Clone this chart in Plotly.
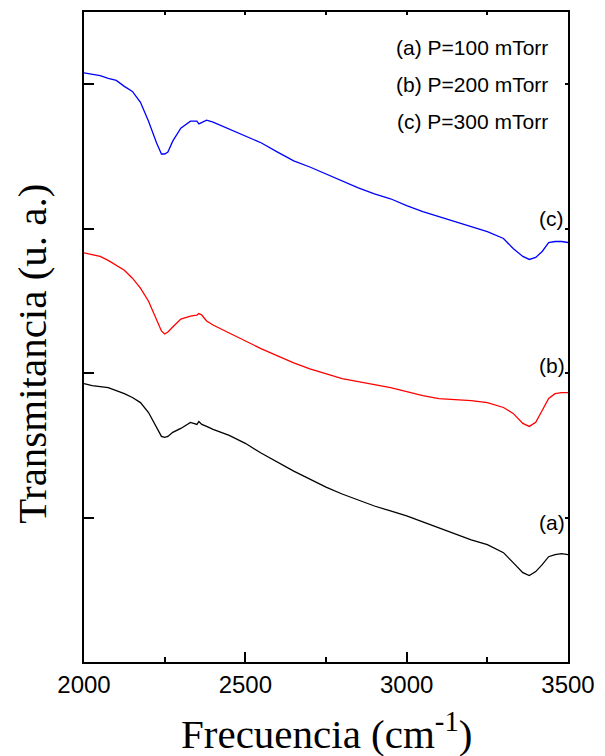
import plotly.graph_objects as go

freq = [2000, 2025, 2050, 2075, 2100, 2125, 2150, 2175, 2200, 2225, 2240, 2250, 2260, 2275,
        2300, 2330, 2350, 2356, 2365, 2380, 2400, 2450, 2500, 2550, 2600, 2650, 2700, 2750,
        2800, 2850, 2900, 2950, 3000, 3050, 3100, 3150, 3200, 3250, 3300, 3330, 3360, 3380,
        3400, 3420, 3440, 3460, 3480, 3500]

trans_a = [1.927, 1.913, 1.906, 1.899, 1.879, 1.858, 1.831, 1.796, 1.727, 1.624, 1.562, 1.555, 1.562, 1.590,
           1.617, 1.659, 1.645, 1.665, 1.645, 1.631, 1.610, 1.569, 1.514, 1.445, 1.383, 1.321, 1.266, 1.211,
           1.163, 1.122, 1.080, 1.046, 1.012, 0.970, 0.929, 0.888, 0.846, 0.812, 0.757, 0.688, 0.619, 0.599,
           0.626, 0.674, 0.729, 0.743, 0.750, 0.743]

trans_b = [2.832, 2.822, 2.808, 2.780, 2.746, 2.712, 2.657, 2.588, 2.498, 2.361, 2.292, 2.271, 2.285, 2.319,
           2.374, 2.395, 2.402, 2.412, 2.402, 2.361, 2.333, 2.278, 2.223, 2.168, 2.120, 2.071, 2.030, 1.996,
           1.961, 1.941, 1.920, 1.899, 1.872, 1.844, 1.824, 1.817, 1.810, 1.796, 1.762, 1.721, 1.652, 1.631,
           1.659, 1.741, 1.824, 1.858, 1.865, 1.865]

trans_c = [4.078, 4.071, 4.060, 4.040, 4.026, 3.985, 3.950, 3.875, 3.744, 3.593, 3.517, 3.517, 3.530, 3.606,
           3.696, 3.744, 3.744, 3.725, 3.737, 3.751, 3.737, 3.689, 3.641, 3.593, 3.530, 3.469, 3.427, 3.379,
           3.331, 3.283, 3.241, 3.207, 3.159, 3.118, 3.083, 3.049, 3.014, 2.980, 2.932, 2.863, 2.808, 2.787,
           2.801, 2.842, 2.904, 2.911, 2.911, 2.904]

x_ticks = [2000, 2500, 3000, 3500]
y_ticks = [1, 2, 3, 4]
legend_lines = ["(a) P=100 mTorr", "(b) P=200 mTorr", "(c) P=300 mTorr"]
curve_labels = ["(a)", "(b)", "(c)"]
curve_label_y = [0.963, 2.05, 3.07]

fig = go.Figure()
for ys, col in [(trans_a, "#000000"), (trans_b, "#FF0000"), (trans_c, "#0000FF")]:
    fig.add_trace(go.Scatter(x=freq, y=ys, mode="lines", line=dict(color=col, width=1.3),
                             showlegend=False, hoverinfo="skip"))
# invisible trace to activate the mirrored tick axes
fig.add_trace(go.Scatter(x=[2000], y=[0], xaxis="x2", yaxis="y2", mode="markers",
                         marker=dict(opacity=0), showlegend=False, hoverinfo="skip"))

tickfont = dict(family="Liberation Sans, Arial", size=24, color="black")
fig.update_layout(
    width=605, height=756,
    margin=dict(l=84, r=35, t=10, b=94),
    paper_bgcolor="white", plot_bgcolor="white",
    xaxis=dict(range=[2000, 3500], tickvals=x_ticks, ticktext=[str(v) for v in x_ticks],
               ticks="inside", ticklen=10, tickwidth=2, tickcolor="black",
               minor=dict(dtick=250, tick0=2000, ticks="inside", ticklen=5, tickwidth=2, tickcolor="black"),
               showline=True, linewidth=2, linecolor="black", mirror=True,
               showgrid=False, zeroline=False, tickfont=tickfont),
    yaxis=dict(range=[0, 4.5], tickvals=y_ticks, showticklabels=False,
               ticks="inside", ticklen=10, tickwidth=2, tickcolor="black",
               showline=True, linewidth=2, linecolor="black", mirror=True,
               showgrid=False, zeroline=False),
    xaxis2=dict(range=[2000, 3500], overlaying="x", side="top", tickvals=list(range(2000, 3501, 250)),
                showticklabels=False, ticks="inside", ticklen=3, tickwidth=2, tickcolor="black",
                showline=False, showgrid=False, zeroline=False),
    yaxis2=dict(range=[0, 4.5], overlaying="y", side="right", tickvals=y_ticks,
                showticklabels=False, ticks="inside", ticklen=3, tickwidth=2, tickcolor="black",
                showline=False, showgrid=False, zeroline=False),
)

ann = []
leg_y = [0.945, 0.888, 0.831]
for txt, yy in zip(legend_lines, leg_y):
    ann.append(dict(text=txt, xref="paper", yref="paper", x=0.963, y=yy, xanchor="right", yanchor="middle",
                    showarrow=False, font=dict(family="Liberation Sans, Arial", size=21, color="black")))
for txt, yy in zip(curve_labels, curve_label_y):
    ann.append(dict(text=txt, xref="x", yref="y", x=3450, y=yy, xanchor="center", yanchor="middle",
                    showarrow=False, font=dict(family="Liberation Sans, Arial", size=21, color="black")))
ann.append(dict(text="Frecuencia (cm<sup>-1</sup>)", xref="paper", yref="paper", x=0.5, y=-0.106,
                xanchor="center", yanchor="middle", showarrow=False,
                font=dict(family="Liberation Serif, Times New Roman", size=41, color="black")))
ann.append(dict(text="Transmitancia (u. a.)", xref="paper", yref="paper", x=-0.108, y=0.474,
                xanchor="center", yanchor="middle", textangle=-90, showarrow=False,
                font=dict(family="Liberation Serif, Times New Roman", size=41, color="black")))
fig.update_layout(annotations=ann)

fig.write_html("out.html", config={"displayModeBar": False},
               post_script="document.body.style.margin='0';")
